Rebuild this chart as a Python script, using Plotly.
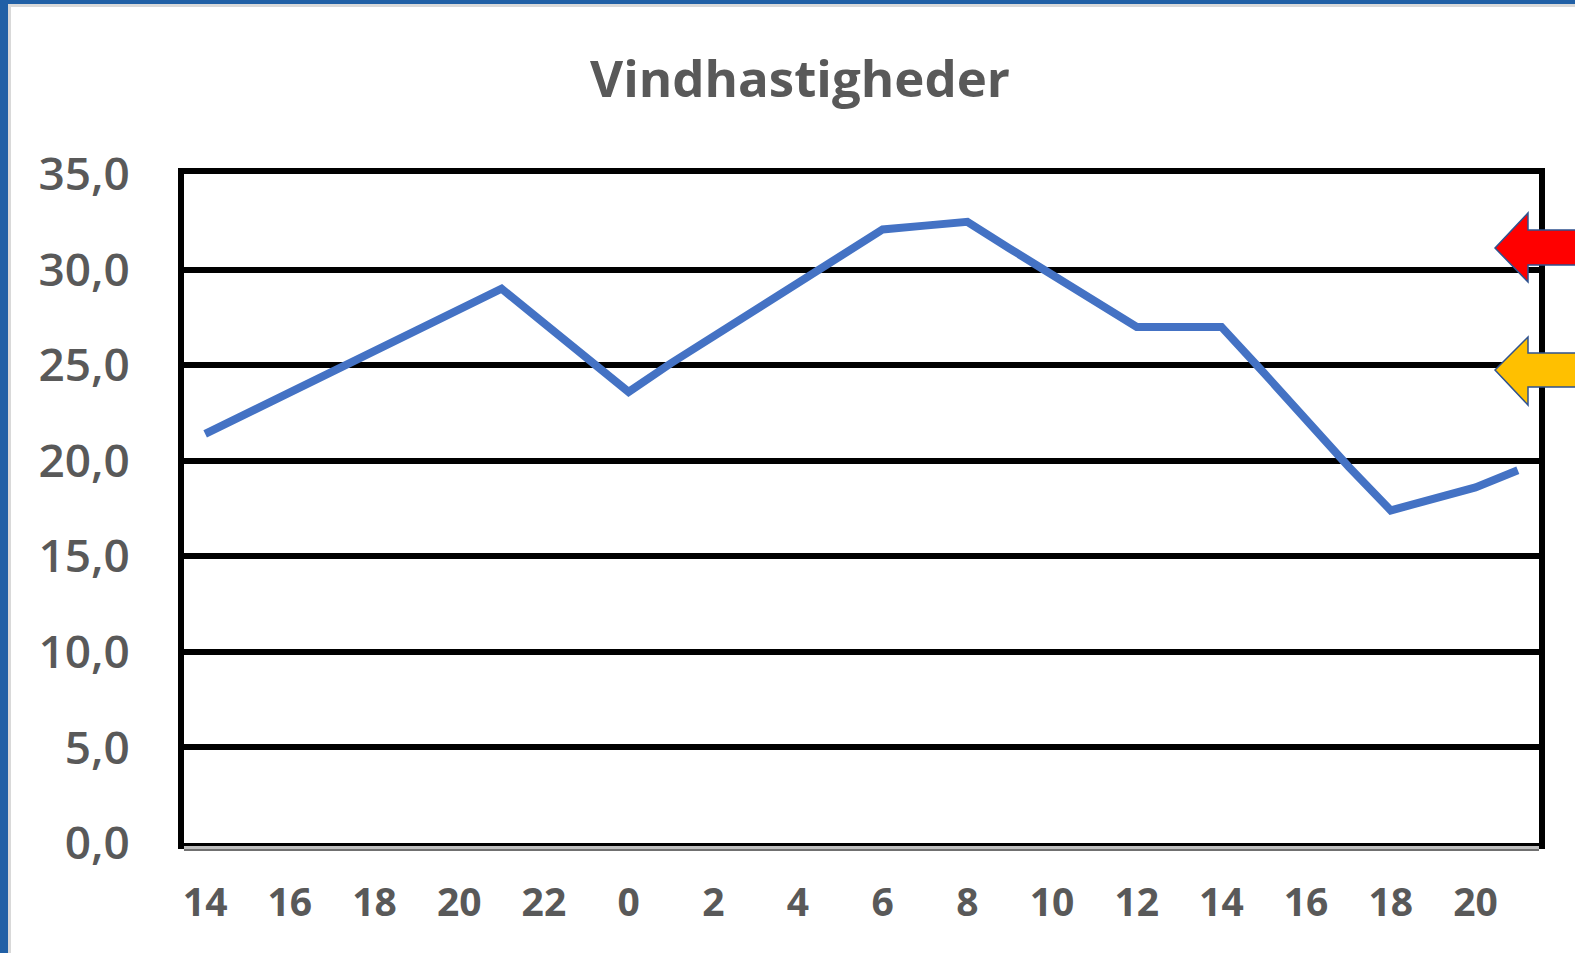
import plotly.graph_objects as go

# ---- data ----
hour_labels = [14, 15, 16, 17, 18, 19, 20, 21, 22, 23,
               0, 1, 2, 3, 4, 5, 6, 7, 8, 9, 10, 11, 12, 13,
               14, 15, 16, 17, 18, 19, 20, 21]
wind_speed = [21.4, 22.5, 23.6, 24.6, 25.7, 26.8, 27.9, 29.0, 27.2, 25.4,
              23.6, 25.1, 26.5, 27.8, 29.2, 30.7, 32.1, 32.3, 32.5, 31.1,
              29.7, 28.4, 27.0, 27.0, 27.0, 24.6, 22.1, 19.7, 17.4, 18.0,
              18.6, 19.5]
y_ticks = [0, 5, 10, 15, 20, 25, 30, 35]
title_text = "Vindhastigheder"

x_idx = list(range(len(wind_speed)))
tick_idx = x_idx[::2]
tick_txt = [str(h) for h in hour_labels[::2]]

W, H = 1575, 953
L, R, T, B = 184, 36, 174, 110
plot_w = W - L - R
plot_h = H - T - B

def px_x(p):
    return (p - L) / plot_w

def px_y(p):
    return (H - B - p) / plot_h

gray = "#595959"

fig = go.Figure()
fig.add_trace(go.Scatter(
    x=x_idx, y=wind_speed, mode="lines",
    line=dict(color="#4472C4", width=8),
    hoverinfo="skip", showlegend=False,
))

shapes = []
# blue frame of the screenshot (left and top)
shapes.append(dict(type="rect", xref="paper", yref="paper",
                   x0=px_x(-5), x1=px_x(8), y0=px_y(H + 5), y1=px_y(-5),
                   fillcolor="#2160A6", line=dict(width=0), layer="above"))
shapes.append(dict(type="rect", xref="paper", yref="paper",
                   x0=px_x(8), x1=px_x(11), y0=px_y(H + 5), y1=px_y(4),
                   fillcolor="#D9D9D9", line=dict(width=0), layer="above"))
shapes.append(dict(type="rect", xref="paper", yref="paper",
                   x0=px_x(-5), x1=px_x(W + 5), y0=px_y(4), y1=px_y(-5),
                   fillcolor="#2160A6", line=dict(width=0), layer="above"))
shapes.append(dict(type="rect", xref="paper", yref="paper",
                   x0=px_x(8), x1=px_x(W + 5), y0=px_y(7), y1=px_y(4),
                   fillcolor="#D9D9D9", line=dict(width=0), layer="above"))
# bottom gray double line under x axis
shapes.append(dict(type="line", xref="paper", yref="paper",
                   x0=0, x1=1, y0=px_y(847.5), y1=px_y(847.5),
                   line=dict(color="#BFBFBF", width=3), layer="above"))
shapes.append(dict(type="line", xref="paper", yref="paper",
                   x0=0, x1=1, y0=px_y(850), y1=px_y(850),
                   line=dict(color="#404040", width=1.5), layer="above"))

def arrow(tip_x, tip_y, head_top, head_bot, shaft_top, shaft_bot, base_x, end_x, color):
    pts = [(tip_x, tip_y), (base_x, head_top), (base_x, shaft_top), (end_x, shaft_top),
           (end_x, shaft_bot), (base_x, shaft_bot), (base_x, head_bot)]
    path = "M " + " L ".join(f"{px_x(x):.5f},{px_y(y):.5f}" for x, y in pts) + " Z"
    return dict(type="path", xref="paper", yref="paper", path=path,
                fillcolor=color, line=dict(color="#2F528F", width=1.5), layer="above")

shapes.append(arrow(1495, 248, 213, 282, 230, 265, 1528, 1590, "#FF0000"))
shapes.append(arrow(1495, 370, 337, 405, 353, 387, 1528, 1590, "#FFC000"))

fig.update_layout(
    width=W, height=H,
    margin=dict(l=L, r=R, t=T, b=B),
    paper_bgcolor="white", plot_bgcolor="white",
    separators=", ",
    title=dict(text=title_text, x=800 / W, xref="container", xanchor="center",
               y=1 - 79 / H, yref="container", yanchor="middle",
               font=dict(family="Open Sans", size=51, color=gray, weight="bold")),
    xaxis=dict(range=[-0.5, len(wind_speed) - 0.5],
               tickvals=tick_idx, ticktext=tick_txt,
               showgrid=False, zeroline=False,
               showline=True, mirror=True, linecolor="black", linewidth=6,
               ticks="", ticklabelstandoff=20,
               tickfont=dict(family="Open Sans", size=39, color=gray, weight="bold")),
    yaxis=dict(range=[0, 35], tickvals=y_ticks, tickformat=".1f",
               showgrid=True, gridcolor="black", gridwidth=5.5,
               zeroline=False,
               showline=True, mirror=True, linecolor="black", linewidth=6,
               ticks="", ticklabelstandoff=39,
               tickfont=dict(family="Open Sans", size=46, color=gray, weight=600)),
    shapes=shapes,
)

fig.write_html("out.html", config={"displayModeBar": False},
               post_script="document.body.style.margin='0';")
